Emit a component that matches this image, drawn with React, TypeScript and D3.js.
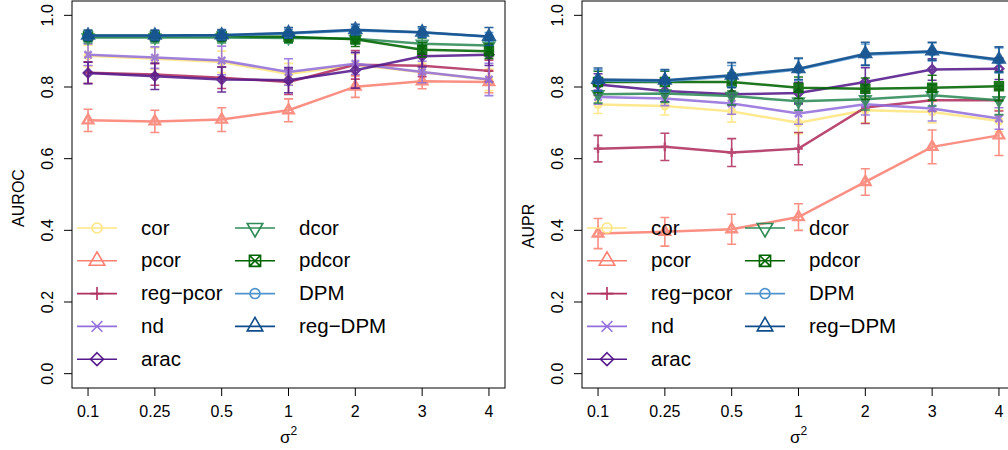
import React from 'react';
import * as d3 from 'd3';

// x categories (sigma^2)
const sigmaLabels = ['0.1', '0.25', '0.5', '1', '2', '3', '4'];
const yTicks = [0, 0.2, 0.4, 0.6, 0.8, 1.0];

const methods = ['cor', 'pcor', 'reg−pcor', 'nd', 'arac', 'dcor', 'pdcor', 'DPM', 'reg−DPM'];
const methodColors = ['#FFE680', '#FA8072', '#B03060', '#9370DB', '#551A8B', '#2E8B57', '#006400', '#4F94CD', '#104E8B'];
const methodSymbols = ['circle', 'triangle', 'plus', 'cross', 'diamond', 'triangleDown', 'squareX', 'circle', 'triangle'];

// AUROC means / error half-widths, one row per method
const aurocMeans = [
  [0.887, 0.879, 0.870, 0.836, 0.862, 0.841, 0.820],
  [0.707, 0.704, 0.709, 0.735, 0.801, 0.816, 0.814],
  [0.840, 0.835, 0.826, 0.814, 0.862, 0.859, 0.845],
  [0.890, 0.882, 0.874, 0.842, 0.865, 0.842, 0.821],
  [0.839, 0.830, 0.821, 0.819, 0.847, 0.886, 0.890],
  [0.938, 0.938, 0.938, 0.937, 0.935, 0.921, 0.916],
  [0.942, 0.942, 0.942, 0.940, 0.933, 0.904, 0.900],
  [0.943, 0.943, 0.944, 0.949, 0.958, 0.952, 0.940],
  [0.944, 0.944, 0.945, 0.951, 0.960, 0.953, 0.941],
];
const aurocErr = [
  [0.030, 0.030, 0.030, 0.030, 0.030, 0.025, 0.030],
  [0.031, 0.031, 0.033, 0.032, 0.030, 0.021, 0.030],
  [0.030, 0.030, 0.030, 0.035, 0.040, 0.030, 0.030],
  [0.030, 0.030, 0.040, 0.037, 0.030, 0.030, 0.045],
  [0.030, 0.037, 0.035, 0.035, 0.050, 0.030, 0.030],
  [0.015, 0.015, 0.015, 0.015, 0.015, 0.015, 0.015],
  [0.015, 0.015, 0.015, 0.015, 0.020, 0.020, 0.020],
  [0.012, 0.012, 0.012, 0.012, 0.012, 0.012, 0.012],
  [0.015, 0.015, 0.015, 0.015, 0.015, 0.015, 0.025],
];

// AUPR means / error half-widths
const auprMeans = [
  [0.751, 0.747, 0.732, 0.700, 0.735, 0.730, 0.705],
  [0.391, 0.396, 0.403, 0.437, 0.535, 0.633, 0.665],
  [0.628, 0.633, 0.617, 0.628, 0.743, 0.763, 0.763],
  [0.772, 0.768, 0.754, 0.726, 0.752, 0.740, 0.712],
  [0.807, 0.789, 0.780, 0.783, 0.814, 0.849, 0.851],
  [0.780, 0.782, 0.775, 0.760, 0.766, 0.777, 0.763],
  [0.814, 0.814, 0.814, 0.798, 0.795, 0.798, 0.802],
  [0.818, 0.816, 0.830, 0.849, 0.890, 0.898, 0.874],
  [0.821, 0.819, 0.833, 0.851, 0.893, 0.900, 0.877],
];
const auprErr = [
  [0.025, 0.025, 0.030, 0.030, 0.035, 0.030, 0.030],
  [0.042, 0.040, 0.042, 0.037, 0.037, 0.047, 0.056],
  [0.037, 0.038, 0.039, 0.045, 0.045, 0.030, 0.030],
  [0.020, 0.020, 0.030, 0.030, 0.030, 0.035, 0.030],
  [0.030, 0.030, 0.030, 0.030, 0.040, 0.030, 0.030],
  [0.025, 0.025, 0.025, 0.025, 0.030, 0.030, 0.040],
  [0.030, 0.030, 0.025, 0.030, 0.030, 0.035, 0.040],
  [0.030, 0.030, 0.030, 0.030, 0.030, 0.025, 0.035],
  [0.032, 0.030, 0.035, 0.030, 0.032, 0.025, 0.035],
];

const FONT = '"Liberation Sans", Arial, Helvetica, sans-serif';

// marker drawn R-pch style
const Marker = ({ kind, x, y, s, color, sw, fill = 'none' }) => {
  const common = { stroke: color, strokeWidth: sw, fill };
  switch (kind) {
    case 'circle':
      return <circle cx={x} cy={y} r={s * 0.55} {...common} />;
    case 'triangle': {
      const r = s;
      return <path d={`M${x},${y - r}L${x + r * 0.866},${y + r * 0.5}L${x - r * 0.866},${y + r * 0.5}Z`} {...common} />;
    }
    case 'triangleDown': {
      const r = s;
      return <path d={`M${x},${y + r}L${x + r * 0.866},${y - r * 0.5}L${x - r * 0.866},${y - r * 0.5}Z`} {...common} />;
    }
    case 'plus': {
      const a = s * 0.72;
      return <path d={`M${x - a},${y}H${x + a}M${x},${y - a}V${y + a}`} {...common} />;
    }
    case 'cross': {
      const a = s * 0.6;
      return <path d={`M${x - a},${y - a}L${x + a},${y + a}M${x - a},${y + a}L${x + a},${y - a}`} {...common} />;
    }
    case 'diamond': {
      const a = s * 0.72;
      return <path d={`M${x},${y - a}L${x + a},${y}L${x},${y + a}L${x - a},${y}Z`} {...common} />;
    }
    case 'squareX': {
      const a = s * 0.62;
      return (
        <path
          d={`M${x - a},${y - a}H${x + a}V${y + a}H${x - a}ZM${x - a},${y - a}L${x + a},${y + a}M${x - a},${y + a}L${x + a},${y - a}`}
          {...common}
        />
      );
    }
    default:
      return null;
  }
};

const Panel = ({ left, means, errs, yLabel, yLabelCenter }) => {
  const right = left + 433;
  const top = 1;
  const bottom = 388;
  const x = d3.scaleLinear().domain([-0.24, 6.24]).range([left, right]);
  const y = d3.scaleLinear().domain([-0.04, 1.04]).range([bottom, top]);
  const line = d3.line<number>().x((_, i) => x(i)).y(d => y(d));

  const legendRows = [228, 260.8, 293.6, 326.4, 359.2];
  const legendItems = methods.map((m, i) => {
    const col = i < 5 ? 0 : 1;
    const row = i < 5 ? i : i - 5;
    const lx = left + (col === 0 ? 5 : 163);
    return { m, i, lx, ly: legendRows[row] };
  });

  return (
    <g>
      {/* box */}
      <rect x={left} y={top} width={right - left} height={bottom - top} fill="none" stroke="#000" strokeWidth={1} />

      {/* y axis */}
      {yTicks.map(t => (
        <g key={t}>
          <line x1={left - 8} x2={left} y1={y(t)} y2={y(t)} stroke="#000" />
          <text
            transform={`translate(${left - 19},${y(t)}) rotate(-90)`}
            textAnchor="middle"
            fontSize={16}
            fontFamily={FONT}
          >
            {t.toFixed(1)}
          </text>
        </g>
      ))}
      <text
        transform={`translate(${left - 48},${yLabelCenter}) rotate(-90)`}
        textAnchor="middle"
        fontSize={16}
        fontFamily={FONT}
      >
        {yLabel}
      </text>

      {/* x axis */}
      {sigmaLabels.map((lab, i) => (
        <g key={lab}>
          <line x1={x(i)} x2={x(i)} y1={bottom} y2={bottom + 8} stroke="#000" />
          <text x={x(i)} y={417} textAnchor="middle" fontSize={16} fontFamily={FONT}>
            {lab}
          </text>
        </g>
      ))}
      <text x={x(3)} y={443} textAnchor="middle" fontSize={17} fontFamily={FONT}>
        σ<tspan fontSize={12} dy={-8}>2</tspan>
      </text>

      {/* series */}
      {means.map((vals, k) => {
        const c = methodColors[k];
        // the heavy plotted symbols of pdcor / DPM / reg-DPM read as solid blobs
        const solid = k >= 6;
        return (
          <g key={k} opacity={0.88}>
            {vals.map((v, i) => {
              const e = errs[k][i];
              return (
                <path
                  key={i}
                  d={`M${x(i)},${y(v - e)}V${y(v + e)}M${x(i) - 4.5},${y(v - e)}h9M${x(i) - 4.5},${y(v + e)}h9`}
                  stroke={c}
                  strokeWidth={1.6}
                  fill="none"
                />
              );
            })}
            <path d={line(vals) || ''} stroke={c} strokeWidth={2.5} fill="none" />
            {vals.map((v, i) => (
              <Marker
                key={i}
                kind={methodSymbols[k]}
                x={x(i)}
                y={y(v)}
                s={solid ? 6.5 : 6}
                color={c}
                sw={2.4}
                fill={solid ? c : 'none'}
              />
            ))}
          </g>
        );
      })}

      {/* legend */}
      {legendItems.map(({ m, i, lx, ly }) => (
        <g key={m}>
          <line x1={lx} x2={lx + 40} y1={ly} y2={ly} stroke={methodColors[i]} strokeWidth={1.6} />
          <Marker kind={methodSymbols[i]} x={lx + 20} y={ly} s={9} color={methodColors[i]} sw={1.6} />
          <text x={lx + 64} y={ly + 6.5} fontSize={20.5} fontFamily={FONT}>
            {m}
          </text>
        </g>
      ))}
    </g>
  );
};

export default function App() {
  return (
    <svg
      width={1008}
      height={450}
      style={{ position: 'absolute', left: 0, top: 0, background: '#fff', overflow: 'hidden' }}
    >
      <rect width={1008} height={450} fill="#fff" />
      <Panel left={72} means={aurocMeans} errs={aurocErr} yLabel="AUROC" yLabelCenter={198} />
      <Panel left={582} means={auprMeans} errs={auprErr} yLabel="AUPR" yLabelCenter={226} />
    </svg>
  );
}
